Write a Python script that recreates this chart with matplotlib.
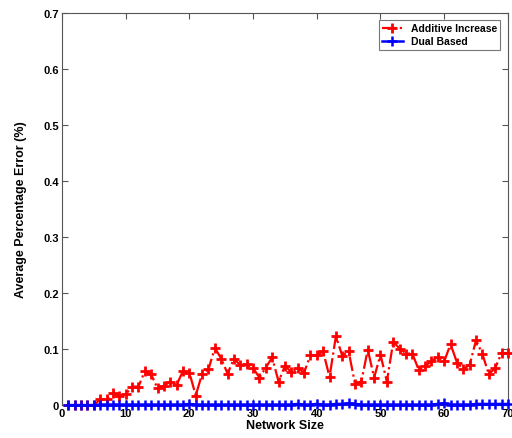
import numpy as np
import matplotlib
matplotlib.use('Agg')
import matplotlib.pyplot as plt

plt.rcParams['font.family'] = ['Liberation Sans', 'DejaVu Sans']
plt.rcParams['font.weight'] = 'bold'

# ---- data ----
network_size = np.arange(1, 71)

additive_increase = [
    0.0, 0.0, 0.0, 0.0, 0.0, 0.010, 0.011, 0.021, 0.017, 0.019,
    0.033, 0.033, 0.060, 0.055, 0.030, 0.034, 0.042, 0.036, 0.061, 0.058,
    0.017, 0.056, 0.064, 0.102, 0.083, 0.056, 0.083, 0.071, 0.073, 0.066,
    0.049, 0.067, 0.085, 0.042, 0.070, 0.059, 0.066, 0.058, 0.089, 0.089,
    0.096, 0.050, 0.123, 0.088, 0.096, 0.038, 0.042, 0.099, 0.049, 0.090,
    0.042, 0.113, 0.101, 0.092, 0.092, 0.063, 0.070, 0.078, 0.086, 0.078,
    0.109, 0.076, 0.064, 0.072, 0.116, 0.091, 0.055, 0.066, 0.093, 0.093,
]

dual_based = [
    0.000, 0.000, 0.000, 0.000, 0.000, 0.001, 0.001, 0.001, 0.001, 0.001,
    0.001, 0.001, 0.001, 0.001, 0.001, 0.001, 0.001, 0.001, 0.001, 0.002,
    0.001, 0.001, 0.001, 0.001, 0.001, 0.001, 0.001, 0.001, 0.001, 0.001,
    0.001, 0.001, 0.001, 0.001, 0.001, 0.001, 0.002, 0.001, 0.001, 0.002,
    0.001, 0.001, 0.002, 0.002, 0.003, 0.002, 0.001, 0.001, 0.001, 0.001,
    0.001, 0.001, 0.001, 0.001, 0.001, 0.001, 0.001, 0.001, 0.002, 0.003,
    0.001, 0.001, 0.001, 0.001, 0.002, 0.002, 0.002, 0.002, 0.002, 0.002,
]

fig = plt.figure(figsize=(5.12, 4.39), dpi=100)
ax = fig.add_axes([0.121, 0.075, 0.871, 0.893])

ax.plot(network_size, additive_increase, color='red', linestyle='-.', linewidth=1.6,
        marker='+', markersize=6.5, markeredgewidth=2, label='Additive Increase',
        clip_on=False, zorder=3)
ax.plot(network_size, dual_based, color='blue', linestyle='-', linewidth=1.8,
        marker='+', markersize=6.5, markeredgewidth=1.8, label='Dual Based',
        clip_on=False, zorder=4)

ax.set_xlim(0, 70)
ax.set_ylim(0, 0.7)
ax.set_xticks(np.arange(0, 71, 10))
ax.set_yticks(np.arange(0, 0.71, 0.1))
ax.set_yticklabels(['0', '0.1', '0.2', '0.3', '0.4', '0.5', '0.6', '0.7'])

ax.tick_params(direction='in', top=True, right=True, labelsize=8, length=4,
               color='#555555', pad=2)
for s in ax.spines.values():
    s.set_color('#555555')
    s.set_linewidth(0.8)

ax.set_xlabel('Network Size', fontsize=9, fontweight='bold', labelpad=1)
ax.set_ylabel('Average Percentage Error (%)', fontsize=9, fontweight='bold', labelpad=12)

leg = ax.legend(loc='upper right', fontsize=7.5, frameon=True, fancybox=False,
                borderpad=0.3, handlelength=2.0, labelspacing=0.3,
                bbox_to_anchor=(0.995, 0.995))
leg.get_frame().set_edgecolor('#555555')
leg.get_frame().set_linewidth(0.8)
for t in leg.get_texts():
    t.set_fontweight('bold')

fig.savefig('out.png', dpi=100)
